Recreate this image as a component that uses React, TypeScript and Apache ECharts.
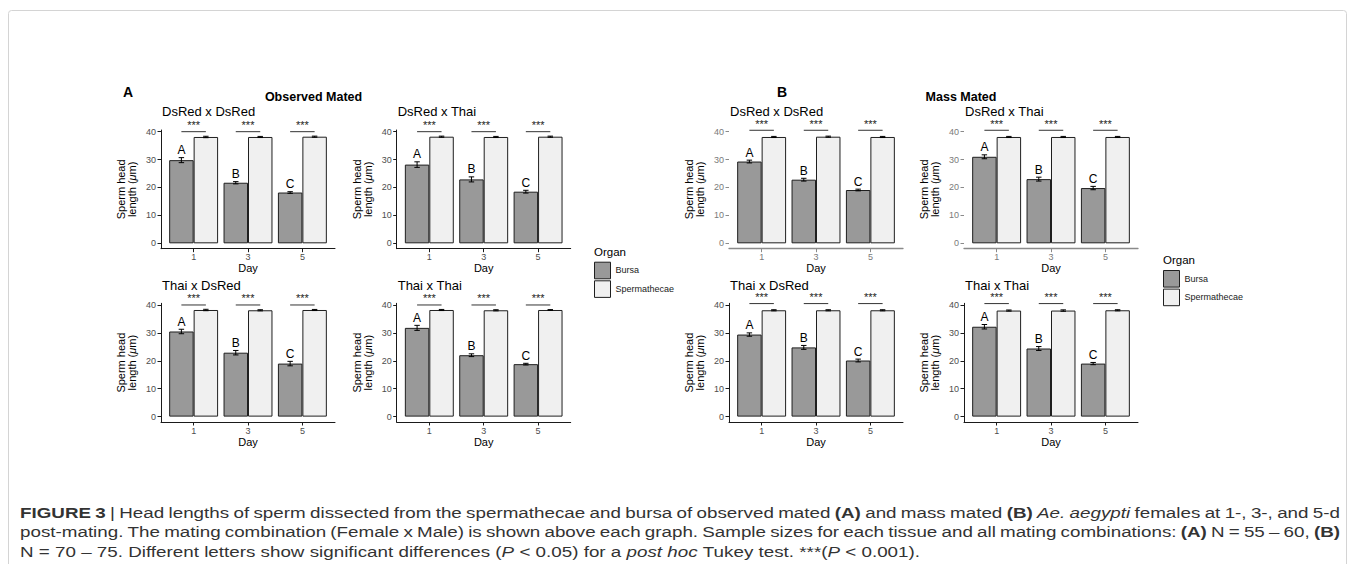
import React, { useEffect, useRef } from "react";
import * as echarts from "echarts";

// ---------------- data ----------------
const days = ["1", "3", "5"];
const dayPos = [1, 2, 3];
const crosses = ["DsRed x DsRed", "DsRed x Thai", "Thai x DsRed", "Thai x Thai"];
const organs = ["Bursa", "Spermathecae"];
const letters = ["A", "B", "C"];
const sigText = "***";
const yTicks = [0, 10, 20, 30, 40];
const panelLabels = ["A", "B"];
const panelTitles = ["Observed Mated", "Mass Mated"];
const legendTitle = "Organ";
const xName = "Day";

// Observed mated (A)
const obsBursaMean = [[29.8, 21.7, 18.2], [28.2, 22.9, 18.5], [30.5, 22.9, 19.0], [31.8, 22.0, 18.8]];
const obsBursaErr = [[0.9, 0.4, 0.3], [1.0, 0.9, 0.5], [0.8, 0.8, 0.8], [0.9, 0.5, 0.3]];
const obsSpermMean = [[38.1, 38.1, 38.2], [38.2, 38.1, 38.2], [38.2, 38.1, 38.2], [38.2, 38.1, 38.2]];
const obsSpermErr = [[0.25, 0.2, 0.2], [0.2, 0.2, 0.2], [0.25, 0.2, 0.2], [0.2, 0.2, 0.15]];
const obsSigY = 40.0;

// Mass mated (B)
const massBursaMean = [[29.3, 22.8, 19.1], [31.0, 23.0, 19.8], [29.4, 24.8, 20.1], [32.2, 24.4, 19.0]];
const massBursaErr = [[0.5, 0.5, 0.3], [0.7, 0.7, 0.6], [0.6, 0.7, 0.5], [0.8, 0.7, 0.4]];
const massSpermMean = [[38.1, 38.2, 38.1], [38.1, 38.1, 38.1], [38.1, 38.1, 38.1], [38.0, 38.0, 38.1]];
const massSpermErr = [[0.2, 0.2, 0.2], [0.2, 0.2, 0.2], [0.2, 0.2, 0.2], [0.2, 0.25, 0.2]];
const massSigY = 40.5;

// caption runs: [text, style] with n = normal, b = bold, i = italic
const captionLines: [string, string][][] = [
  [
    ["FIGURE 3", "b"],
    [" | Head lengths of sperm dissected from the spermathecae and bursa of observed mated ", "n"],
    ["(A)", "b"],
    [" and mass mated ", "n"],
    ["(B)", "b"],
    [" ", "n"],
    ["Ae. aegypti", "i"],
    [" females at 1-, 3-, and 5-d", "n"],
  ],
  [
    ["post-mating. The mating combination (Female x Male) is shown above each graph. Sample sizes for each tissue and all mating combinations: ", "n"],
    ["(A)", "b"],
    [" N = 55 – 60, ", "n"],
    ["(B)", "b"],
  ],
  [
    ["N = 70 – 75. Different letters show significant differences (", "n"],
    ["P", "i"],
    [" < 0.05) for a ", "n"],
    ["post hoc", "i"],
    [" Tukey test. ***(", "n"],
    ["P", "i"],
    [" < 0.001).", "n"],
  ],
];

// ---------------- layout / style ----------------
const FONT = "'Liberation Sans', Arial, Helvetica, sans-serif";
const CAP_FONT = "'Liberation Sans Narrow', 'Liberation Sans', Arial, sans-serif";
const CAP_SIZE = 15;
const CAP_LEFT = 20;
const CAP_RIGHT = 1340;
const CAP_LAST_RIGHT = 920;
const GRID_W = 174;
const GRID_H = 118.7;
const rowTops = [130, 303.3];
const panelLefts = [[161, 396.7], [729, 964]];
const Y_MIN = -1.93;
const Y_MAX = 40.6;
const DODGE = 0.225;
const CAP = 0.05;
const BURSA_COLOR = "#999999";
const SPERM_COLOR = "#F0F0F0";
const EDGE = "#1f1f1f";

type Piece = { t: string; s: string };

function toWords(runs: [string, string][]): Piece[][] {
  const words: Piece[][] = [[]];
  for (const [text, s] of runs) {
    const parts = text.split(" ");
    parts.forEach((part, k) => {
      if (k > 0) words.push([]);
      if (part) words[words.length - 1].push({ t: part, s });
    });
  }
  return words.filter((w) => w.length);
}

function fontProps(s: string) {
  return {
    fontWeight: s === "b" ? "bold" : "normal",
    fontStyle: s === "i" ? "italic" : "normal",
  };
}

function buildCaption(): any[] {
  const canvas = document.createElement("canvas");
  const ctx = canvas.getContext("2d") as CanvasRenderingContext2D;
  const measure = (t: string, s: string) => {
    const fp = fontProps(s);
    ctx.font = `${fp.fontStyle} ${fp.fontWeight} ${CAP_SIZE}px ${CAP_FONT}`;
    return ctx.measureText(t).width;
  };
  const spaceW = measure(" ", "n");
  const lines = captionLines.map(toWords);
  const lineWidths = lines.map((ws) =>
    ws.map((w) => w.reduce((a, p) => a + measure(p.t, p.s), 0))
  );
  const last = lineWidths[2];
  const natural3 = last.reduce((a, b) => a + b, 0) + (last.length - 1) * spaceW;
  const sx = (CAP_LAST_RIGHT - CAP_LEFT) / natural3;
  const ys = [513, 532.5, 552];
  const els: any[] = [];
  lines.forEach((words, li) => {
    const wW = lineWidths[li];
    const total = wW.reduce((a, b) => a + b, 0) * sx;
    const gap = li < 2 ? (CAP_RIGHT - CAP_LEFT - total) / (words.length - 1) : spaceW * sx;
    let x = CAP_LEFT;
    words.forEach((w, wi) => {
      let px = x;
      w.forEach((p) => {
        els.push({
          type: "text",
          x: px,
          y: ys[li],
          scaleX: sx,
          silent: true,
          style: {
            text: p.t,
            fill: "#333333",
            fontSize: CAP_SIZE,
            fontFamily: CAP_FONT,
            ...fontProps(p.s),
            verticalAlign: "middle",
            align: "left",
          },
        });
        px += measure(p.t, p.s) * sx;
      });
      x += wW[wi] * sx + gap;
    });
  });
  return els;
}

function buildOption() {
  const grids: any[] = [];
  const xAxes: any[] = [];
  const yAxes: any[] = [];
  const series: any[] = [];
  const graphics: any[] = [];

  const panels = [
    { bm: obsBursaMean, be: obsBursaErr, sm: obsSpermMean, se: obsSpermErr, sigY: obsSigY },
    { bm: massBursaMean, be: massBursaErr, sm: massSpermMean, se: massSpermErr, sigY: massSigY },
  ];

  const errSeries = (gi: number, means: number[], errs: number[], dodge: number, withLetters: boolean) => ({
    type: "custom",
    name: withLetters ? "errB" : "errS",
    xAxisIndex: gi,
    yAxisIndex: gi,
    z: 5,
    silent: true,
    clip: false,
    data: dayPos.map((x, i) => [x, means[i], errs[i], i]),
    renderItem: (params: any, api: any) => {
      const x = api.value(0) + dodge;
      const m = api.value(1);
      const e = api.value(2);
      const top = api.coord([x, m + e]);
      const bot = api.coord([x, m - e]);
      const l = api.coord([x - CAP, m])[0];
      const r = api.coord([x + CAP, m])[0];
      const style = { stroke: "#000", lineWidth: 1 };
      const children: any[] = [
        { type: "line", shape: { x1: top[0], y1: top[1], x2: bot[0], y2: bot[1] }, style },
        { type: "line", shape: { x1: l, y1: top[1], x2: r, y2: top[1] }, style },
        { type: "line", shape: { x1: l, y1: bot[1], x2: r, y2: bot[1] }, style },
      ];
      if (withLetters) {
        children.push({
          type: "text",
          x: top[0],
          y: top[1] - 1.5,
          style: {
            text: letters[api.value(3)],
            fill: "#000",
            fontSize: 12,
            fontFamily: FONT,
            align: "center",
            verticalAlign: "bottom",
          },
        });
      }
      return { type: "group", children };
    },
  });

  panels.forEach((pd, p) => {
    crosses.forEach((cross, c) => {
      const col = c % 2;
      const row = Math.floor(c / 2);
      const gi = grids.length;
      const muted = p === 1 && row === 0;
      const left = panelLefts[p][col];
      const top = rowTops[row];
      const axisCol = muted ? "#8a8a8a" : "#1a1a1a";
      const labelCol = muted ? "#7a7a7a" : "#4d4d4d";
      grids.push({ left, top, width: GRID_W, height: GRID_H, containLabel: false, outerBoundsMode: "none" });
      xAxes.push({
        gridIndex: gi,
        type: "value",
        min: 0.4,
        max: 3.6,
        axisLine: { show: true, onZero: false, lineStyle: { color: axisCol, width: muted ? 1.3 : 1 } },
        axisTick: { show: true, customValues: dayPos, length: 3.5, lineStyle: { color: axisCol } },
        axisLabel: {
          customValues: dayPos,
          formatter: (v: number) => days[dayPos.indexOf(v)],
          fontSize: 9,
          color: labelCol,
          margin: 4,
          fontFamily: FONT,
        },
        splitLine: { show: false },
        name: xName,
        nameLocation: "middle",
        nameGap: 14,
        nameMoveOverlap: false,
        nameTextStyle: { fontSize: 11, color: "#000", fontFamily: FONT },
      });
      yAxes.push({
        gridIndex: gi,
        type: "value",
        min: Y_MIN,
        max: Y_MAX,
        axisLine: { show: !muted, onZero: false, lineStyle: { color: axisCol } },
        axisTick: { show: true, customValues: yTicks, length: 3.5, lineStyle: { color: axisCol } },
        axisLabel: { customValues: yTicks, fontSize: 9, color: labelCol, margin: 5, fontFamily: FONT },
        splitLine: { show: false },
        name: "Sperm head\nlength ({mu|μ}m)",
        nameLocation: "middle",
        nameGap: 23.5,
        nameMoveOverlap: false,
        nameTextStyle: {
          fontSize: 11,
          lineHeight: 11,
          color: "#000",
          fontFamily: FONT,
          rich: { mu: { fontStyle: "italic", fontSize: 11, lineHeight: 11, fontFamily: FONT, color: "#000" } },
        },
      });
      series.push({
        type: "bar",
        name: organs[0],
        xAxisIndex: gi,
        yAxisIndex: gi,
        barWidth: "45%",
        barGap: "0%",
        silent: true,
        itemStyle: { color: BURSA_COLOR, borderColor: EDGE, borderWidth: 1 },
        data: dayPos.map((x, i) => [x, pd.bm[c][i]]),
      });
      series.push({
        type: "bar",
        name: organs[1],
        xAxisIndex: gi,
        yAxisIndex: gi,
        barWidth: "45%",
        barGap: "0%",
        silent: true,
        itemStyle: { color: SPERM_COLOR, borderColor: EDGE, borderWidth: 1 },
        data: dayPos.map((x, i) => [x, pd.sm[c][i]]),
      });
      series.push(errSeries(gi, pd.bm[c], pd.be[c], -DODGE, true));
      series.push(errSeries(gi, pd.sm[c], pd.se[c], DODGE, false));
      series.push({
        type: "custom",
        name: "sig",
        xAxisIndex: gi,
        yAxisIndex: gi,
        z: 6,
        silent: true,
        clip: false,
        data: dayPos.map((x) => [x, pd.sigY]),
        renderItem: (params: any, api: any) => {
          const x = api.value(0);
          const y = api.value(1);
          const a = api.coord([x - DODGE, y]);
          const b = api.coord([x + DODGE, y]);
          return {
            type: "group",
            children: [
              { type: "line", shape: { x1: a[0], y1: a[1], x2: b[0], y2: b[1] }, style: { stroke: "#333", lineWidth: 1 } },
              {
                type: "text",
                x: (a[0] + b[0]) / 2,
                y: a[1] - 1,
                style: { text: sigText, fill: "#222", fontSize: 11, fontFamily: FONT, align: "center", verticalAlign: "bottom" },
              },
            ],
          };
        },
      });
      // subplot title
      graphics.push({
        type: "text",
        x: left + 1,
        y: row === 0 ? 111.5 : 285.7,
        silent: true,
        style: { text: cross, fontSize: 13, fontFamily: FONT, fill: "#000", align: "left", verticalAlign: "middle" },
      });
    });
  });

  // panel labels and headings
  const labelX = [128, 782];
  const titleX = [313.5, 961];
  panelLabels.forEach((lab, p) => {
    graphics.push({
      type: "text", x: labelX[p], y: 92, silent: true,
      style: { text: lab, fontSize: 14, fontWeight: "bold", fontFamily: FONT, fill: "#000", align: "center", verticalAlign: "middle" },
    });
    graphics.push({
      type: "text", x: titleX[p], y: 97, silent: true,
      style: { text: panelTitles[p], fontSize: 12.5, fontWeight: "bold", fontFamily: FONT, fill: "#000", align: "center", verticalAlign: "middle" },
    });
  });

  // legend titles
  const legendPos = [
    { x: 594, titleY: 251.7, top: 261.7 },
    { x: 1163, titleY: 260, top: 270 },
  ];
  legendPos.forEach((lp) => {
    graphics.push({
      type: "text", x: lp.x, y: lp.titleY, silent: true,
      style: { text: legendTitle, fontSize: 11.5, fontFamily: FONT, fill: "#000", align: "left", verticalAlign: "middle" },
    });
  });

  // border
  graphics.push({
    type: "rect", silent: true, z: -1,
    shape: { x: 8.5, y: 10.5, width: 1338, height: 600, r: 3 },
    style: { fill: "none", stroke: "#d4d4d4", lineWidth: 1 },
  });

  graphics.push(...buildCaption());

  const legends = legendPos.map((lp) => ({
    data: organs,
    orient: "vertical",
    left: lp.x,
    top: lp.top,
    padding: 0,
    itemWidth: 16,
    itemHeight: 16.6,
    itemGap: 1,
    icon: "rect",
    selectedMode: false,
    itemStyle: { borderColor: EDGE, borderWidth: 1 },
    textStyle: { fontSize: 9, color: "#1a1a1a", fontFamily: FONT },
  }));

  return {
    animation: false,
    backgroundColor: "#ffffff",
    textStyle: { fontFamily: FONT },
    grid: grids,
    xAxis: xAxes,
    yAxis: yAxes,
    legend: legends,
    series,
    graphic: { elements: graphics },
  };
}

export default function App() {
  const ref = useRef<HTMLDivElement>(null);
  useEffect(() => {
    if (!ref.current) return;
    const chart = echarts.init(ref.current, null, { renderer: "svg" });
    chart.setOption(buildOption() as any);
    return () => chart.dispose();
  }, []);
  return (
    <div
      ref={ref}
      style={{ position: "fixed", left: 0, top: 0, width: 1355, height: 564, background: "#fff" }}
    />
  );
}
